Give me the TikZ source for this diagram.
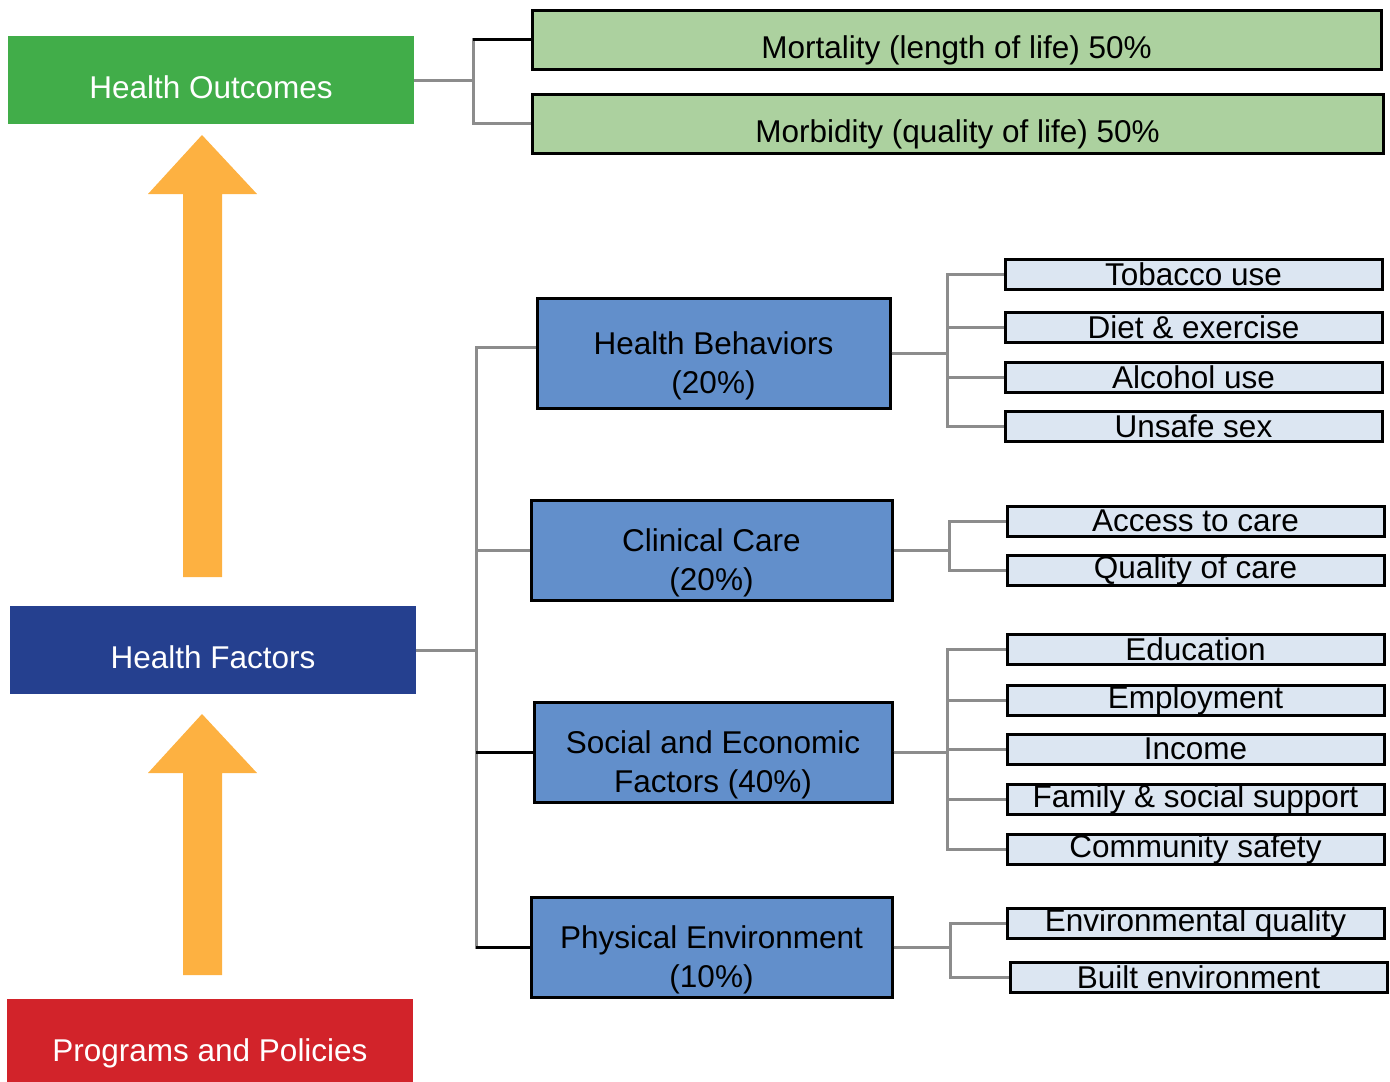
\documentclass[tikz,border=0pt]{standalone}
\usepackage{fontspec}
\setmainfont{Liberation Sans}
\definecolor{hogreen}{HTML}{41AD49}
\definecolor{hfblue}{HTML}{25408F}
\definecolor{ppred}{HTML}{D2232A}
\definecolor{uporange}{HTML}{FDB141}
\definecolor{midblue}{HTML}{628FCB}
\definecolor{itemblue}{HTML}{DCE6F2}
\definecolor{outgreen}{HTML}{ACD19F}
\definecolor{linkgray}{HTML}{8C8C8C}
\begin{document}
\begin{tikzpicture}[x=1pt,y=-1pt,
    every node/.style={font=\fontsize{31.5}{39}\selectfont,inner sep=0pt},
    lowtext/.style={text height=37pt,text depth=0pt},
    bigbox/.style={lowtext,minimum width=406pt,minimum height=88pt,text=white},
    outbox/.style={lowtext,draw,line width=3pt,fill=outgreen,minimum height=59pt},
    midbox/.style={draw,line width=3pt,fill=midblue,align=center,minimum height=100pt,
      execute at begin node=\rule{0pt}{87pt}},
    itembox/.style={draw,line width=3pt,fill=itemblue,minimum width=377pt,minimum height=30pt},
    link/.style={draw=linkgray,line width=3pt},
    linkdark/.style={draw=black,line width=3pt}]
  \useasboundingbox (0,0) rectangle (1390,1082);
  \node[bigbox,fill=hogreen] (outcomes) at (211,80) {Health Outcomes};
  \node[bigbox,fill=hfblue] (factors) at (213,650) {Health Factors};
  \node[bigbox,fill=ppred,minimum height=83pt,text height=41pt] (programs) at (210,1040.5) {Programs and Policies};
  \fill[uporange] (202,135) -- (257,194) -- (222,194) -- (222,577) -- (183,577)
    -- (183,194) -- (148,194) -- cycle;
  \fill[uporange] (202,714) -- (257,773) -- (222,773) -- (222,975) -- (183,975)
    -- (183,773) -- (148,773) -- cycle;
  \node[outbox,minimum width=849pt] (mortality) at (956.5,39.5) {Mortality (length of life) 50\%};
  \node[outbox,minimum width=851pt] (morbidity) at (957.5,123.5) {Morbidity (quality of life) 50\%};
  \node[midbox,minimum width=353pt,minimum height=110pt,execute at begin node=\rule{0pt}{78pt}] (behav)
    at (713.5,353) {Health Behaviors\\(20\%)};
  \node[midbox,minimum width=361pt] (care) at (711.5,550) {Clinical Care\\(20\%)};
  \node[midbox,minimum width=358pt] (social) at (713,752) {Social and Economic\\Factors (40\%)};
  \node[midbox,minimum width=361pt] (phys) at (711.5,947) {Physical Environment\\(10\%)};
  \node[itembox] (tobacco) at (1193.5,274) {Tobacco use};
  \node[itembox] (diet) at (1193.5,327) {Diet \& exercise};
  \node[itembox] (alcohol) at (1193.5,377) {Alcohol use};
  \node[itembox] (sex) at (1193.5,426) {Unsafe sex};
  \node[itembox] (access) at (1195.5,521) {Access to care};
  \node[itembox] (quality) at (1195.5,570) {Quality of care};
  \node[itembox] (education) at (1195.5,649) {Education};
  \node[itembox] (employment) at (1195.5,700) {Employment};
  \node[itembox] (income) at (1195.5,749) {Income};
  \node[itembox] (family) at (1195.5,799) {Family \& social support};
  \node[itembox] (safety) at (1195.5,849) {Community safety};
  \node[itembox] (envq) at (1195.5,923) {Environmental quality};
  \node[itembox] (built) at (1198.5,977) {Built environment};
  \coordinate (hoj) at (473,80);
  \coordinate (trunk) at (476,650);
  \draw[link] (outcomes.east) -- (hoj);
  \draw[link] (hoj) |- (mortality.west);
  \draw[link] (hoj) |- (morbidity.west);
  \draw[linkdark] (hoj |- mortality.west) -- (mortality.west);
  \draw[link] (factors.east) -- (trunk);
  \draw[link] (trunk) |- ([yshift=6pt]behav.west);
  \foreach \m in {care,social,phys}
    \draw[link] (trunk) |- (\m.west);
  \foreach \m in {social,phys}
    \draw[linkdark] (trunk |- \m.west) -- (\m.west);
  \foreach \t in {tobacco,diet,alcohol,sex}
    \draw[link] (behav.east) -- ++(56,0) |- (\t.west);
  \foreach \t in {access,quality}
    \draw[link] (care.east) -- ++(56,0) |- (\t.west);
  \foreach \t in {education,employment,income,family,safety}
    \draw[link] (social.east) -- ++(54,0) |- (\t.west);
  \foreach \t in {envq,built}
    \draw[link] (phys.east) -- ++(57,0) |- (\t.west);
\end{tikzpicture}
\end{document}
